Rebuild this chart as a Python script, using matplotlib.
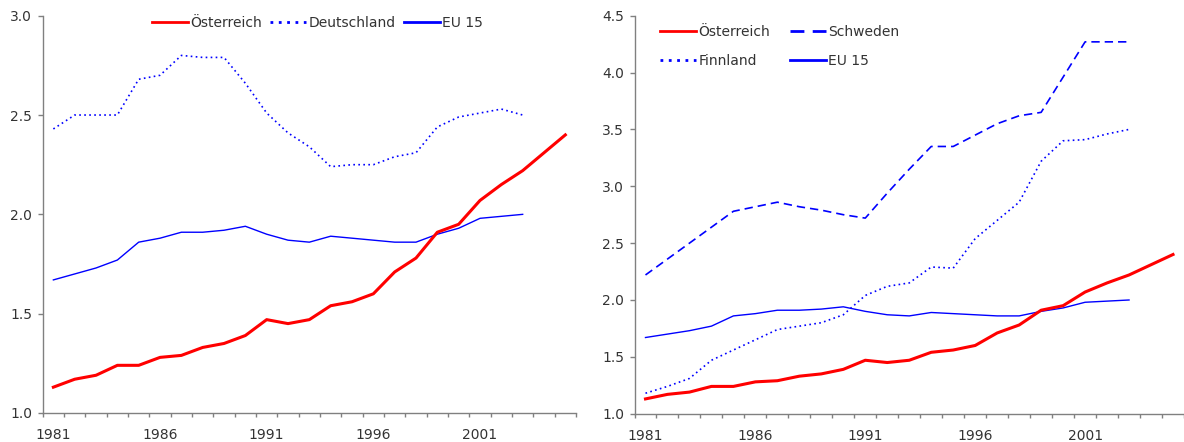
import matplotlib
matplotlib.use("Agg")
import matplotlib.pyplot as plt
import numpy as np

years = list(range(1981, 2006))
tick_years = [1981, 1986, 1991, 1996, 2001]

oesterreich = [1.13, 1.17, 1.19, 1.24, 1.24, 1.28, 1.29, 1.33, 1.35, 1.39,
               1.47, 1.45, 1.47, 1.54, 1.56, 1.60, 1.71, 1.78, 1.91, 1.95,
               2.07, 2.15, 2.22, 2.31, 2.40]
eu15 = [1.67, 1.70, 1.73, 1.77, 1.86, 1.88, 1.91, 1.91, 1.92, 1.94,
        1.90, 1.87, 1.86, 1.89, 1.88, 1.87, 1.86, 1.86, 1.90, 1.93,
        1.98, 1.99, 2.00]
deutschland = [2.43, 2.50, 2.50, 2.50, 2.68, 2.70, 2.80, 2.79, 2.79, 2.66,
               2.51, 2.41, 2.34, 2.24, 2.25, 2.25, 2.29, 2.31, 2.44, 2.49,
               2.51, 2.53, 2.50]
schweden = [2.22, 2.36, 2.50, 2.64, 2.78, 2.82, 2.86, 2.82, 2.79, 2.75,
            2.72, 2.94, 3.15, 3.35, 3.35, 3.45, 3.55, 3.62, 3.65, 3.96,
            4.27, 4.27, 4.27]
finnland = [1.18, 1.24, 1.31, 1.47, 1.56, 1.65, 1.74, 1.77, 1.80, 1.87,
            2.04, 2.12, 2.15, 2.29, 2.28, 2.54, 2.70, 2.86, 3.22, 3.40,
            3.41, 3.46, 3.50]

plt.rcParams['font.family'] = ['DejaVu Sans']
TXT = '#333333'
SP = '#808080'
RED = '#ff0000'
BLUE = '#0000ff'

fig = plt.figure(figsize=(11.84, 4.42), dpi=100)
W, H = 1184, 442

def make_ax(x0, x1, ytop, ybot):
    return fig.add_axes([x0 / W, 1 - ybot / H, (x1 - x0) / W, (ybot - ytop) / H])

axL = make_ax(42.7, 576, 15.7, 413)
axR = make_ax(634.5, 1184, 15.7, 413.7)

def style(ax, ymax):
    n = len(years)
    ax.set_xlim(-0.5, n - 0.5)
    ax.set_ylim(1.0, ymax)
    for s in ['top', 'right']:
        ax.spines[s].set_visible(False)
    for s in ['left', 'bottom']:
        ax.spines[s].set_color(SP)
        ax.spines[s].set_linewidth(1.0)
    ax.set_xticks([years.index(y) for y in tick_years])
    ax.set_xticklabels([str(y) for y in tick_years])
    ax.set_xticks(np.arange(-0.5, n, 1.0), minor=True)
    ax.tick_params(axis='x', which='major', length=0, pad=11, labelsize=10, labelcolor=TXT)
    ax.tick_params(axis='x', which='minor', length=3, width=1.0, color=SP, direction='out')
    yt = np.arange(1.0, ymax + 0.01, 0.5)
    ax.set_yticks(yt)
    ax.set_yticklabels([f"{v:.1f}" for v in yt])
    ax.tick_params(axis='y', which='major', length=3.6, width=1.0, color=SP, pad=4,
                   labelsize=10, labelcolor=TXT)

xe = np.arange(len(eu15))
xa = np.arange(len(oesterreich))

# Left panel
style(axL, 3.0)
axL.plot(xa, oesterreich, color=RED, lw=2.2, label='Österreich', zorder=4)
axL.plot(xe, deutschland, color=BLUE, lw=1.2, ls=(0, (1, 2)), label='Deutschland')
axL.plot(xe, eu15, color=BLUE, lw=1.0, label='EU 15')
leg = axL.legend(loc='upper center', bbox_to_anchor=(0.515, 1.03), ncol=3, frameon=False,
                 fontsize=10, handlelength=2.6, handletextpad=0.15, columnspacing=0.6,
                 labelcolor=TXT)
for h in leg.get_lines():
    h.set_linewidth(2.0)

# Right panel
style(axR, 4.5)
axR.plot(xa, oesterreich, color=RED, lw=2.2, label='Österreich', zorder=4)
axR.plot(xe, schweden, color=BLUE, lw=1.2, ls=(0, (5, 3)), label='Schweden')
axR.plot(xe, finnland, color=BLUE, lw=1.2, ls=(0, (1, 2)), label='Finnland')
axR.plot(xe, eu15, color=BLUE, lw=1.0, label='EU 15')
h, l = axR.get_legend_handles_labels()
order = [0, 2, 1, 3]
leg2 = axR.legend([h[i] for i in order], [l[i] for i in order], loc='upper left',
                  bbox_to_anchor=(0.024, 1.008), ncol=2, frameon=False, fontsize=10,
                  handlelength=2.6, handletextpad=0.15, columnspacing=1.4,
                  labelspacing=1.1, labelcolor=TXT)
for hh in leg2.get_lines():
    hh.set_linewidth(2.0)

fig.savefig('out.png', dpi=100)
